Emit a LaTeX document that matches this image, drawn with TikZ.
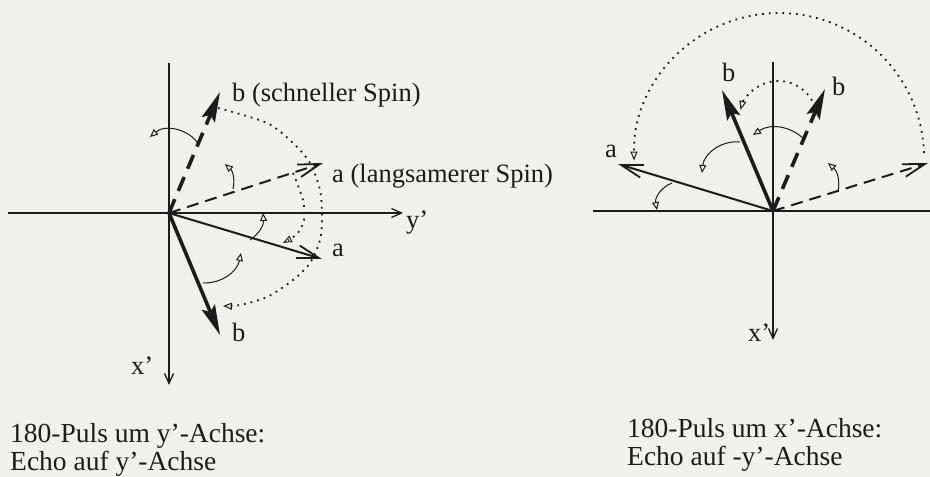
\documentclass[tikz,border=0pt]{standalone}
\usepackage{fontspec}
\setmainfont{Liberation Serif}
\usepackage{xcolor}
\definecolor{paper}{HTML}{F0F0EE}
\definecolor{ink}{HTML}{1C1C1C}
\usepackage{tikz}
\usetikzlibrary{arrows.meta}

\begin{document}
\begin{tikzpicture}[x=1pt,y=1pt,every node/.style={font=\fontsize{26.5}{28}\selectfont, text=ink, inner sep=0pt}]
\tikzstyle{axis}=[draw=ink, line width=1.3pt]
\tikzstyle{axisarrow}=[axis, -{Straight Barb[length=10pt,width=9pt,line width=1.3pt]}]
\tikzstyle{veca}=[draw=ink, line width=2pt, -{Straight Barb[length=22pt,width=13pt,line width=1.8pt]}]
\tikzstyle{vecb}=[draw=ink, line width=3.6pt, -{Stealth[length=30pt,width=14pt,inset=5pt]}]
\tikzstyle{olda}=[veca, dash pattern=on 12pt off 7pt]
\tikzstyle{oldb}=[vecb, dash pattern=on 15pt off 9pt]
\tikzstyle{turn}=[draw=ink, line width=1pt, -{Triangle[open,length=8pt,width=7pt]}]
\tikzstyle{echo}=[draw=ink, line width=1.8pt, dash pattern=on 1.8pt off 5pt, -{Triangle[open,length=9pt,width=7pt,line width=1pt]}]
\tikzstyle{caption}=[anchor=north west, align=left, font=\fontsize{27.5}{28}\selectfont]
\fill[paper] (0,0) rectangle (930,477);
\useasboundingbox (0,0) rectangle (930,477);

\coordinate (O1) at (169,264);
\coordinate (bd1) at (220,385);
\coordinate (ad1) at (323,314);
\coordinate (as1) at (322,218);
\coordinate (bs1) at (220,142);
\coordinate (yl1) at (8,264);
\coordinate (yr1) at (403,264);
\coordinate (xt1) at (169,414);
\coordinate (xb1) at (169,92);
\draw[axisarrow] (yl1) -- (yr1);
\draw[axisarrow] (xt1) -- (xb1);
\draw[echo] plot[smooth] coordinates {(218,369) (267,354) (293,334) (310,314) (320,287) (322,260) (320,237) (310,214) (293,197) (267,180) (240,172) (223,171)};
\draw[echo] plot[smooth] coordinates {(293,304) (303,277) (304,257) (297,243) (283,234)};
\draw[turn] (199,332) to[bend right=50] (150,340);
\draw[turn] (233,288) to[bend right=30] (225,313);
\draw[turn] (250,237) to[bend right=30] (263,264);
\draw[turn] (203,194) to[bend right=40] (241,224);
\draw[oldb] (O1) -- (bd1);
\draw[olda] (O1) -- (ad1);
\draw[veca] (O1) -- (as1);
\draw[vecb] (O1) -- (bs1);
\node[anchor=base west] (lbd1) at (232,375) {b (schneller Spin)};
\node[anchor=base west] (lad1) at (332,294) {a (langsamerer Spin)};
\node[anchor=base west] (las1) at (332,220) {a};
\node[anchor=base west] (lbs1) at (232,135) {b};
\node[anchor=base west] (ly1) at (406,248) {y'};
\node[anchor=base west] (lx1) at (131,102) {x'};
\node[caption] (cap1) at (10,54) {180-Puls um y'-Achse:\\Echo auf y'-Achse};

\coordinate (O2) at (773,266);
\coordinate (as2) at (618,313);
\coordinate (bs2) at (722,387);
\coordinate (bd2) at (825,388);
\coordinate (ad2) at (928,314);
\coordinate (yl2) at (593,266);
\coordinate (yr2) at (930,266);
\coordinate (xt2) at (773,415);
\coordinate (xb2) at (773,137);
\coordinate (big2) at (924,324);
\coordinate (small2) at (812,376.5);
\draw[axis] (yl2) -- (yr2);
\draw[axisarrow] (xt2) -- (xb2);
\draw[echo] (big2) arc[start angle=2, end angle=181, radius=145];
\draw[echo] (small2) arc[start angle=30, end angle=165, radius=39];
\draw[turn] (805,337) to[bend right=40] (753,342);
\draw[turn] (740,335) to[bend right=45] (702,304);
\draw[turn] (672,294) to[bend right=40] (657,267);
\draw[turn] (838,285) to[bend right=30] (828,314);
\draw[oldb] (O2) -- (bd2);
\draw[olda] (O2) -- (ad2);
\draw[veca] (O2) -- (as2);
\draw[vecb] (O2) -- (bs2);
\node[anchor=base west] (las2) at (605,319) {a};
\node[anchor=base west] (lbs2) at (722,395) {b};
\node[anchor=base west] (lbd2) at (832,381) {b};
\node[anchor=base west] (lx2) at (748,135) {x'};
\node[caption] (cap2) at (627,59) {180-Puls um x'-Achse:\\Echo auf -y'-Achse};
\end{tikzpicture}
\end{document}
